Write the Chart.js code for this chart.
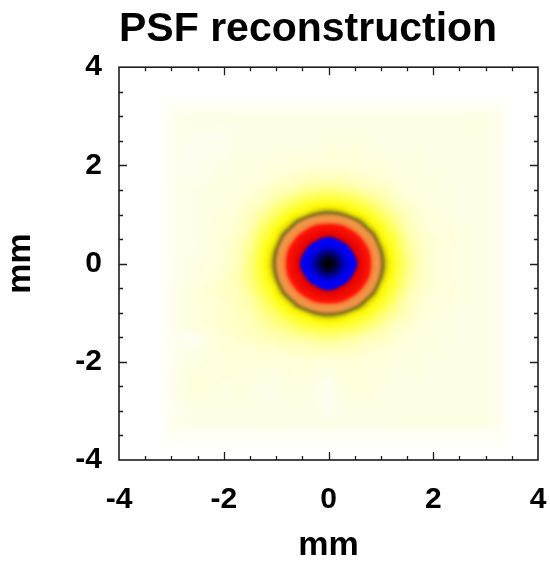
<!DOCTYPE html>
<html>
<head>
<meta charset="utf-8">
<script src="https://cdn.jsdelivr.net/npm/chart.js@4/dist/chart.umd.min.js"></script>
<style>
html,body{margin:0;padding:0;background:#ffffff;}
#wrap{width:550px;height:563px;position:relative;}
</style>
</head>
<body>
<div id="wrap"><canvas id="c" width="550" height="563"></canvas></div>
<script>
// ---- text ----
const chartTitle = 'PSF reconstruction';
const xAxisTitle = 'mm';
const yAxisTitle = 'mm';

// ---- axes ----
const xTickValues = [-4, -2, 0, 2, 4];
const yTickValues = [-4, -2, 0, 2, 4];
const minorTickStep = 0.5;

// ---- PSF sample grid (mm) ----
const xCoords = [-4,-3.5,-3.25,-3,-2.5,-2,-1.75,-1.5,-1.25,-1,-0.75,-0.5,-0.25,0,0.25,0.5,0.75,1,1.25,1.5,1.75,2,2.5,3,3.25,3.5,4];
const yCoords = [4,3.5,3.25,3,2.5,2,1.75,1.5,1.25,1,0.75,0.5,0.25,0,-0.25,-0.5,-0.75,-1,-1.25,-1.5,-1.75,-2,-2.5,-3,-3.25,-3.5,-4];

// intensity, % of peak; one row per yCoords entry, one column per xCoords entry
const psfValues = [
  [0,0,0,0,0,0,0,0,0,0,0,0,0,0,0,0,0,0,0,0,0,0,0,0,0,0,0],
  [0,0,0,0,0,0,0,0,0,0,0,0,0,0,0,0,0,0,0,0,0,0,0,0,0,0,0],
  [0,0,0,1,1,1,1,1,1,1,1,1,1,1,1,1,1,1,1,1,1,1,1,1,1,0,0],
  [0,0,0,2,3,3,3,3,3,3,3,3,3,3,3,3,3,3,3,3,3,3,3,3,2,0,0],
  [0,0,0,2,2,2,3,3,3,3,3,3,3,4,4,4,4,3,3,3,3,3,3,3,2,0,0],
  [0,0,0,2,2,3,4,4,4,5,5,6,6,6,6,6,5,5,4,4,4,3,3,3,2,0,0],
  [0,0,0,2,2,4,4,4,5,6,7,8,9,9,9,8,7,6,5,4,4,4,3,3,2,0,0],
  [0,0,0,2,3,4,4,5,7,9,10,12,13,14,13,12,10,9,7,5,4,4,3,3,2,0,0],
  [0,0,0,2,3,4,5,7,9,12,15,18,20,21,20,18,15,12,9,7,5,4,3,3,2,0,0],
  [0,0,0,2,3,5,6,9,12,16,21,25,30,32,30,25,21,16,12,9,6,5,3,3,2,0,0],
  [0,0,0,2,3,5,7,10,15,21,28,40,50,53,50,40,28,21,15,10,7,5,4,3,2,0,0],
  [0,0,0,2,3,6,8,12,18,25,40,57,69,76,69,57,40,25,18,12,8,6,4,3,2,0,0],
  [0,0,0,2,3,6,9,13,20,30,50,69,85,91,85,69,50,30,20,13,9,6,4,3,2,0,0],
  [0,0,0,2,4,6,9,14,21,32,53,76,91,100,91,76,53,32,21,14,9,6,4,3,2,0,0],
  [0,0,0,2,4,7,10,14,20,30,50,69,85,91,85,69,50,30,20,13,9,6,4,3,2,0,0],
  [0,0,0,2,5,8,9,13,18,25,40,57,69,76,69,57,40,25,18,12,8,6,4,3,2,0,0],
  [0,0,0,2,5,7,9,11,15,21,28,40,50,53,50,40,28,21,15,10,7,5,4,3,2,0,0],
  [0,0,0,2,5,7,8,10,13,16,21,25,30,32,30,25,21,16,12,9,6,5,3,3,2,0,0],
  [0,0,0,2,5,7,8,9,11,13,15,18,20,21,20,18,15,12,9,7,5,4,3,3,2,0,0],
  [0,0,0,2,2,6,7,8,9,10,11,12,13,14,13,12,10,9,7,5,4,4,3,3,2,0,0],
  [0,0,0,2,3,6,6,6,7,7,8,8,9,9,9,8,7,6,5,4,4,4,3,3,2,0,0],
  [0,0,0,2,4,5,5,5,5,5,5,6,6,5,6,6,5,5,4,4,4,3,3,3,2,0,0],
  [0,0,0,2,5,4,4,4,3,3,4,4,3,2,4,5,5,4,3,3,3,3,3,3,2,0,0],
  [0,0,0,2,3,3,3,3,3,3,3,3,3,2,3,3,3,3,3,3,3,3,3,3,2,0,0],
  [0,0,0,2,3,3,3,3,3,3,3,3,3,3,3,3,3,3,3,3,3,3,3,3,2,0,0],
  [0,0,0,1,1,1,1,1,1,1,1,1,1,1,1,1,1,1,1,1,1,1,1,1,1,0,0],
  [0,0,0,0,0,0,0,0,0,0,0,0,0,0,0,0,0,0,0,0,0,0,0,0,0,0,0]
];

// ---- colour table (value %, rgb) ----
const colorStops = [
  [0,   [255,255,255]],
  [3,   [254,254,230]],
  [6,   [255,255,215]],
  [10,  [255,255,180]],
  [15,  [255,255,110]],
  [20,  [255,255,40]],
  [24,  [250,245,0]],
  [27,  [205,195,10]],
  [29.5,[120,108,28]],
  [32,  [195,128,48]],
  [35,  [238,152,72]],
  [43,  [245,140,65]],
  [47,  [250,90,40]],
  [50,  [255,20,5]],
  [70,  [225,0,0]],
  [72,  [110,0,80]],
  [74,  [20,0,230]],
  [77,  [0,0,250]],
  [85,  [0,0,235]],
  [91,  [0,0,150]],
  [96,  [0,0,60]],
  [100, [0,0,0]]
];

const FONT = '"Liberation Sans", Arial, Helvetica, sans-serif';

function colorAt(v) {
  if (v <= colorStops[0][0]) return colorStops[0][1];
  for (let k = 0; k < colorStops.length - 1; k++) {
    const a = colorStops[k], b = colorStops[k + 1];
    if (v <= b[0]) {
      const t = (v - a[0]) / (b[0] - a[0]);
      return [a[1][0] + (b[1][0] - a[1][0]) * t,
              a[1][1] + (b[1][1] - a[1][1]) * t,
              a[1][2] + (b[1][2] - a[1][2]) * t];
    }
  }
  return colorStops[colorStops.length - 1][1];
}

// fractional index of value v in a monotonic coordinate list
function fracIndex(arr, v) {
  const n = arr.length;
  for (let i = 0; i < n - 1; i++) {
    const a = arr[i], b = arr[i + 1];
    if ((v - a) * (v - b) <= 0) return i + (v - a) / (b - a);
  }
  return Math.abs(v - arr[0]) < Math.abs(v - arr[n - 1]) ? 0 : n - 1;
}

function crWeights(t) {
  const t2 = t * t, t3 = t2 * t;
  return [(-t3 + 2 * t2 - t) / 2, (3 * t3 - 5 * t2 + 2) / 2, (-3 * t3 + 4 * t2 + t) / 2, (t3 - t2) / 2];
}

function sampleGrid(fi, fj) {
  const nx = xCoords.length, ny = yCoords.length;
  const i = Math.min(Math.floor(fi), nx - 2), j = Math.min(Math.floor(fj), ny - 2);
  const wx = crWeights(fi - i), wy = crWeights(fj - j);
  let s = 0;
  for (let m = 0; m < 4; m++) {
    const jj = Math.max(0, Math.min(ny - 1, j - 1 + m));
    const row = psfValues[jj];
    let r = 0;
    for (let k = 0; k < 4; k++) {
      const ii = Math.max(0, Math.min(nx - 1, i - 1 + k));
      r += wx[k] * row[ii];
    }
    s += wy[m] * r;
  }
  return Math.max(0, Math.min(100, s));
}

const heatmapPlugin = {
  id: 'psfHeatmap',
  beforeDatasetsDraw(chart) {
    const { ctx, chartArea, scales } = chart;
    const left = Math.round(chartArea.left), top = Math.round(chartArea.top);
    const w = Math.round(chartArea.right) - left, h = Math.round(chartArea.bottom) - top;
    const off = document.createElement('canvas');
    off.width = w; off.height = h;
    const octx = off.getContext('2d');
    const img = octx.createImageData(w, h);
    const fis = [], fjs = [];
    for (let px = 0; px < w; px++) fis.push(fracIndex(xCoords, scales.x.getValueForPixel(left + px + 0.5)));
    for (let py = 0; py < h; py++) fjs.push(fracIndex(yCoords, scales.y.getValueForPixel(top + py + 0.5)));
    let p = 0;
    for (let py = 0; py < h; py++) {
      for (let px = 0; px < w; px++) {
        const c = colorAt(sampleGrid(fis[px], fjs[py]));
        img.data[p++] = c[0]; img.data[p++] = c[1]; img.data[p++] = c[2]; img.data[p++] = 255;
      }
    }
    octx.putImageData(img, 0, 0);
    ctx.save();
    ctx.beginPath(); ctx.rect(left, top, w, h); ctx.clip();
    ctx.filter = 'blur(1px)';
    ctx.drawImage(off, left, top);
    ctx.restore();
  }
};

const framePlugin = {
  id: 'psfFrame',
  afterDraw(chart) {
    const { ctx, chartArea: { left, top, right, bottom }, scales } = chart;
    ctx.save();
    ctx.strokeStyle = '#1c1c1c';
    ctx.lineWidth = 1.3;
    for (let v = -4 + minorTickStep; v < 4 - 1e-9; v += minorTickStep) {
      const major = xTickValues.some(t => Math.abs(t - v) < 1e-9);
      const len = major ? 8 : 4;
      const px = Math.round(scales.x.getPixelForValue(v)) + 0.5;
      ctx.beginPath();
      ctx.moveTo(px, bottom); ctx.lineTo(px, bottom - len);
      ctx.moveTo(px, top); ctx.lineTo(px, top + len);
      ctx.stroke();
    }
    for (let v = -4 + minorTickStep; v < 4 - 1e-9; v += minorTickStep) {
      const major = yTickValues.some(t => Math.abs(t - v) < 1e-9);
      const len = major ? 8 : 4;
      const py = Math.round(scales.y.getPixelForValue(v)) + 0.5;
      ctx.beginPath();
      ctx.moveTo(left, py); ctx.lineTo(left + len, py);
      ctx.moveTo(right, py); ctx.lineTo(right - len, py);
      ctx.stroke();
    }
    ctx.lineWidth = 1.6;
    ctx.strokeRect(left, top, right - left, bottom - top);
    ctx.restore();
  }
};

const gridPoints = [];
yCoords.forEach((yv, j) => xCoords.forEach((xv, i) => gridPoints.push({ x: xv, y: yv, v: psfValues[j][i] })));

new Chart(document.getElementById('c'), {
  type: 'scatter',
  data: { datasets: [{ label: 'PSF', data: gridPoints, pointRadius: 0, pointHoverRadius: 0, showLine: false }] },
  options: {
    responsive: false,
    animation: false,
    events: [],
    layout: { padding: { left: 0, right: 12, top: 0, bottom: 0 } },
    plugins: {
      legend: { display: false },
      tooltip: { enabled: false },
      title: {
        display: true, text: chartTitle, fullSize: false, align: 'start', color: '#000',
        font: { family: FONT, size: 41, weight: 'bold', lineHeight: 1.2 },
        padding: { top: 5, bottom: 13 }
      }
    },
    scales: {
      x: {
        type: 'linear', position: 'bottom', min: -4, max: 4,
        afterBuildTicks: s => { s.ticks = xTickValues.map(v => ({ value: v })); },
        afterFit: s => { s.height = 103; s.paddingLeft = 0; s.paddingRight = 0; },
        grid: { display: false, drawTicks: false },
        border: { display: false },
        ticks: { color: '#000', padding: 22, maxRotation: 0, autoSkip: false,
                 font: { family: FONT, size: 30, weight: 'bold' } },
        title: { display: true, text: xAxisTitle, color: '#000', padding: { top: 0, bottom: 0 },
                 font: { family: FONT, size: 34, weight: 'bold', lineHeight: 1 } }
      },
      y: {
        type: 'linear', position: 'left', min: -4, max: 4,
        afterBuildTicks: s => { s.ticks = yTickValues.map(v => ({ value: v })); },
        afterFit: s => { s.width = 119; s.paddingTop = 0; s.paddingBottom = 0; },
        grid: { display: false, drawTicks: false },
        border: { display: false },
        ticks: { color: '#000', padding: 17, autoSkip: false,
                 font: { family: FONT, size: 30, weight: 'bold' } },
        title: { display: true, text: yAxisTitle, color: '#000', padding: { top: 0, bottom: 0 },
                 font: { family: FONT, size: 34, weight: 'bold', lineHeight: 1.2 } }
      }
    }
  },
  plugins: [heatmapPlugin, framePlugin]
});
</script>
</body>
</html>
